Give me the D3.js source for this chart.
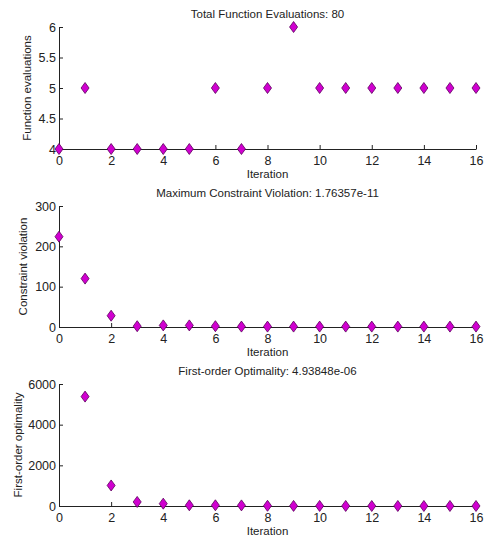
<html>
<head>
    <meta content="text/html;charset=utf-8" http-equiv="Content-Type"/>
    <style>
        body { margin: 0; background: #fff; }
        text { font-family: "Liberation Sans", Arial, sans-serif; fill: #222; }
    </style>
</head>
<body>
<svg id="chart" width="490" height="542"></svg>
<script src="https://d3js.org/d3.v7.min.js"></script>
<script>
    // iterations shared by all three panels
    const iterations = d3.range(0, 17);
    const xTicks = [0, 2, 4, 6, 8, 10, 12, 14, 16];

    // panel 1: function evaluations per iteration
    const funcEvals = [4, 5, 4, 4, 4, 4, 5, 4, 5, 6, 5, 5, 5, 5, 5, 5, 5];
    const funcEvalTicks = [4, 4.5, 5, 5.5, 6];

    // panel 2: constraint violation
    const constrViol = [224, 120, 28, 2, 4, 4, 2, 1, 1, 1, 1, 1, 1, 1, 1, 1, 1];
    const constrTicks = [0, 100, 200, 300];

    // panel 3: first-order optimality (no value at iteration 0)
    const firstOrder = [null, 5380, 1010, 200, 115, 35, 35, 30, 10, 5, 3, 2, 1, 1, 1, 1, 1];
    const firstOrderTicks = [0, 2000, 4000, 6000];

    const panels = [
        {title: "Total Function Evaluations: 80", ylabel: "Function evaluations",
         values: funcEvals, ticks: funcEvalTicks, domain: [4, 6], top: 27, bottom: 149, ylabX: 27},
        {title: "Maximum Constraint Violation: 1.76357e-11", ylabel: "Constraint violation",
         values: constrViol, ticks: constrTicks, domain: [0, 300], top: 206, bottom: 327, ylabX: 23},
        {title: "First-order Optimality: 4.93848e-06", ylabel: "First-order optimality",
         values: firstOrder, ticks: firstOrderTicks, domain: [0, 6000], top: 384, bottom: 506, ylabX: 18}
    ];

    const left = 59, right = 476;
    const svg = d3.select("#chart");
    const x = d3.scaleLinear().domain([0, 16]).range([left, right]);

    function diamond(w, h) {
        return "M0," + (-h/2) + "L" + (w/2) + ",0L0," + (h/2) + "L" + (-w/2) + ",0Z";
    }

    panels.forEach(function(p) {
        const y = d3.scaleLinear().domain(p.domain).range([p.bottom, p.top]);
        const g = svg.append("g");

        const xAxis = d3.axisBottom(x).tickValues(xTicks).tickSizeInner(-4).tickSizeOuter(0).tickPadding(7);
        g.append("g")
            .attr("transform", "translate(0," + p.bottom + ")")
            .call(xAxis)
            .call(function(a) {
                a.select(".domain").attr("stroke", "#222");
                a.selectAll(".tick line").attr("stroke", "#222");
                a.selectAll("text").style("font-size", "12.5px").attr("fill", "#333");
            });

        const yAxis = d3.axisLeft(y).tickValues(p.ticks).tickSizeInner(-4).tickSizeOuter(0).tickPadding(3)
            .tickFormat(d3.format(""));
        g.append("g")
            .attr("transform", "translate(" + left + ",0)")
            .call(yAxis)
            .call(function(a) {
                a.select(".domain").attr("stroke", "#222");
                a.selectAll(".tick line").attr("stroke", "#222");
                a.selectAll("text").style("font-size", "12.5px").attr("fill", "#333");
            });

        g.append("text")
            .attr("x", (left + right) / 2)
            .attr("y", p.top - 9)
            .attr("text-anchor", "middle")
            .style("font-size", "11.5px")
            .text(p.title);

        g.append("text")
            .attr("x", (left + right) / 2)
            .attr("y", p.bottom + 29)
            .attr("text-anchor", "middle")
            .style("font-size", "11.5px")
            .text("Iteration");

        g.append("text")
            .attr("transform", "translate(" + p.ylabX + "," + ((p.top + p.bottom) / 2) + ") rotate(-90)")
            .attr("dy", "0.35em")
            .attr("text-anchor", "middle")
            .style("font-size", "11.5px")
            .text(p.ylabel);

        const pts = iterations
            .map(function(i) { return {i: i, v: p.values[i]}; })
            .filter(function(d) { return d.v !== null; });

        g.selectAll("path.marker")
            .data(pts)
            .enter()
            .append("path")
            .attr("class", "marker")
            .attr("d", diamond(8, 11))
            .attr("transform", function(d) { return "translate(" + x(d.i) + "," + y(d.v) + ")"; })
            .attr("fill", "#d000d0")
            .attr("stroke", "#5a005a")
            .attr("stroke-width", 0.8);
    });
</script>
</body>
</html>
